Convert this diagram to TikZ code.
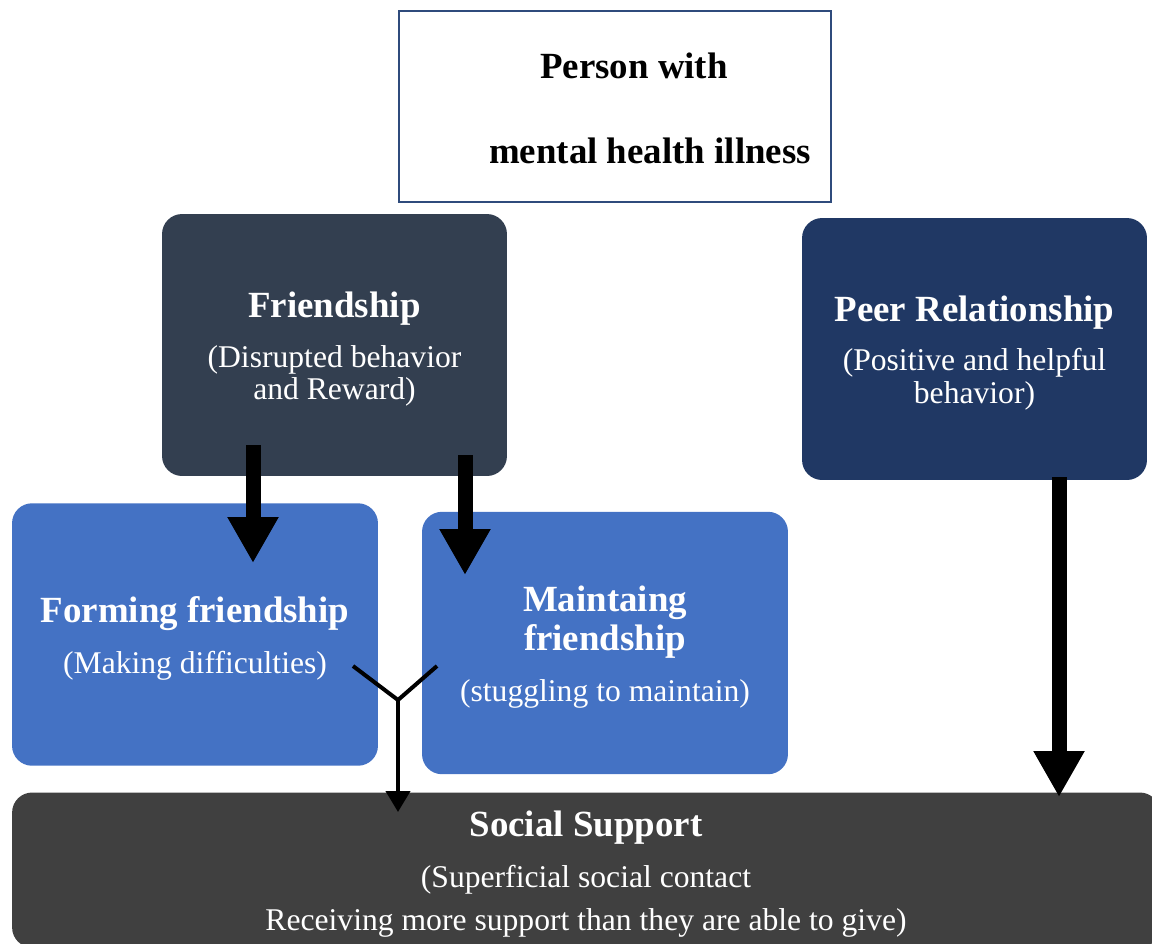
\documentclass[tikz,border=0pt]{standalone}
\usepackage{fontspec}
\setmainfont{Liberation Serif}
\usetikzlibrary{arrows.meta}

\definecolor{frameblue}{HTML}{2F4B7C}
\definecolor{slate}{HTML}{333F50}
\definecolor{navy}{HTML}{203864}
\definecolor{midblue}{HTML}{4472C4}
\definecolor{charcoal}{HTML}{404040}

% text inside the boxes, fixed line distance
\newcommand{\boxfont}{\fontsize{18pt}{18.2pt}\selectfont\lineskiplimit-100pt\relax}
% bold heading inside a box (the strut pushes the block down a little)
\newcommand{\hd}[1]{{\fontsize{21pt}{21pt}\selectfont\bfseries\rule{0pt}{19pt}#1}}

\begin{document}
\begin{tikzpicture}[x=0.02cm, y=-0.02cm,
      box/.style={rounded corners=0.4cm, align=center, text=white, inner sep=0pt,
                  font=\boxfont},
      upper/.style={box, minimum width=6.9cm, minimum height=5.24cm},
      lower/.style={box, fill=midblue, minimum width=7.32cm, minimum height=5.25cm},
      bigarrow/.style={line width=0.3cm, -{Triangle[length=0.92cm, width=0.96cm]}},
      merge/.style={line width=0.08cm}]
    \useasboundingbox (0,0) rectangle (1152,943);
    \clip (0,0) rectangle (1152,943);

    \node[draw=frameblue, line width=0.04cm, fill=white, align=center,
          minimum width=8.64cm, minimum height=3.82cm, inner sep=0pt,
          font=\fontsize{21pt}{48.2pt}\selectfont\bfseries]
          (person) at (615,106.5)
          {\rule{0pt}{16.5pt}\hspace*{0.76cm}Person with\\ \hspace*{1.4cm}mental health illness};

    \node[upper, fill=slate] (friend) at (334.5,345)
          {\hd{Friendship}\\[10.5pt] (Disrupted behavior\\ and Reward)};
    \node[upper, fill=navy]  (peer)   at (974.5,349)
          {\hd{Peer Relationship}\\[10pt] (Positive and helpful\\[0.5pt] behavior)};

    \node[lower] (forming)  at (195,634.5)
          {\hd{Forming friendship}\\[11pt] (Making difficulties)};
    \node[lower] (maintain) at (605,643)
          {\hd{Maintaing}\\[4.4pt] \hd{friendship}\\[10.5pt] (stuggling to maintain)};

    \node[box, fill=charcoal, minimum width=22.96cm, minimum height=3.1cm]
          (social) at (586,870)
          {\hd{Social Support}\\[11pt] (Superficial social contact\\[6.2pt]
           Receiving more support than they are able to give)};

    % heavy arrows
    \coordinate (f1) at (253,445);
    \coordinate (f2) at (465,455);
    \draw[bigarrow] (f1) -- (f1 |- 0,563);
    \draw[bigarrow] (f2) -- (f2 |- 0,575);
    \draw[bigarrow] (1059,477) coordinate (p1) -- (p1 |- 0,797);

    % the two friendship boxes merge into social support
    \coordinate (yl) at (353,666);
    \coordinate (yr) at (437,666);
    \coordinate (yj) at (398,700);
    \draw[merge] (yl) -- (yj) -- (yr);
    \draw[merge, -{Triangle[length=0.42cm, width=0.48cm]}] (yj) -- (yj |- 0,812);
  \end{tikzpicture}
\end{document}
